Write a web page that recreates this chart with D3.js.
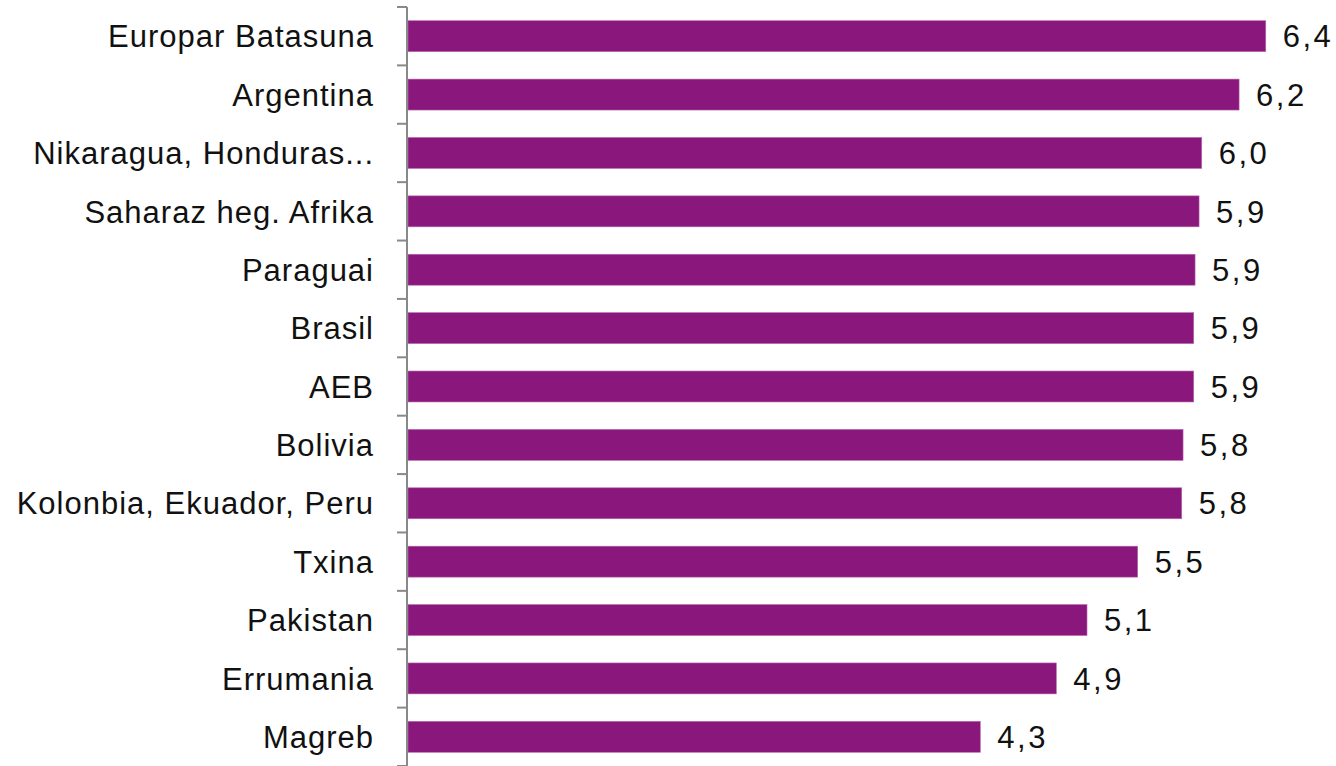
<!DOCTYPE html>
<html><head><meta charset="utf-8">
<script src="https://cdn.jsdelivr.net/npm/d3@7"></script>
<style>body{margin:0;background:#fff}svg{display:block}</style>
</head><body>
<svg id="c" width="1336" height="766"></svg>
<script>
const categories = ["Europar Batasuna","Argentina","Nikaragua, Honduras...","Saharaz heg. Afrika","Paraguai","Brasil","AEB","Bolivia","Kolonbia, Ekuador, Peru","Txina","Pakistan","Errumania","Magreb"];
const values = [6.43,6.23,5.95,5.93,5.90,5.89,5.89,5.81,5.80,5.47,5.09,4.86,4.29];
const labels = ["6,4","6,2","6,0","5,9","5,9","5,9","5,9","5,8","5,8","5,5","5,1","4,9","4,3"];

const svg = d3.select("#c");
const axisX = 407;
const x = d3.scaleLinear().domain([0,7]).range([axisX+1, axisX+1+7*133.4]);
const y = d3.scaleBand().domain(categories).range([7,766]).paddingInner(0.47).paddingOuter(0.235);
const yb = d3.scaleBand().domain(categories).range([7,766]);
const font = "'Liberation Sans', Arial, sans-serif";

svg.append("g").selectAll("rect").data(categories).join("rect")
  .attr("x", x(0)).attr("y", d=>y(d))
  .attr("width", (d,i)=>x(values[i])-x(0)).attr("height", y.bandwidth())
  .attr("fill","#8a177b").attr("stroke","#b768ad").attr("stroke-width",0.6);

const g = svg.append("g");
g.append("line").attr("x1",axisX).attr("x2",axisX).attr("y1",7).attr("y2",766)
  .attr("stroke","#898989").attr("stroke-width",2);
const bounds = categories.map(d=>yb(d)).concat([766]);
g.selectAll("line.t").data(bounds).join("line").attr("class","t")
  .attr("x1",397).attr("x2",axisX).attr("y1",d=>d).attr("y2",d=>d)
  .attr("stroke","#898989").attr("stroke-width",2);

svg.append("g").selectAll("text").data(categories).join("text")
  .attr("x",374).attr("y",d=>yb(d)+yb.bandwidth()/2).attr("dy","0.36em")
  .attr("text-anchor","end").attr("font-family",font).attr("font-size",31)
  .attr("letter-spacing",1).attr("fill","#111").text(d=>d);

svg.append("g").selectAll("text").data(categories).join("text")
  .attr("x",(d,i)=>x(values[i])+17).attr("y",d=>y(d)+y.bandwidth()/2).attr("dy","0.36em")
  .attr("font-family",font).attr("font-size",31).attr("letter-spacing",2.5).attr("fill","#111")
  .text((d,i)=>labels[i]);
</script>
</body></html>
